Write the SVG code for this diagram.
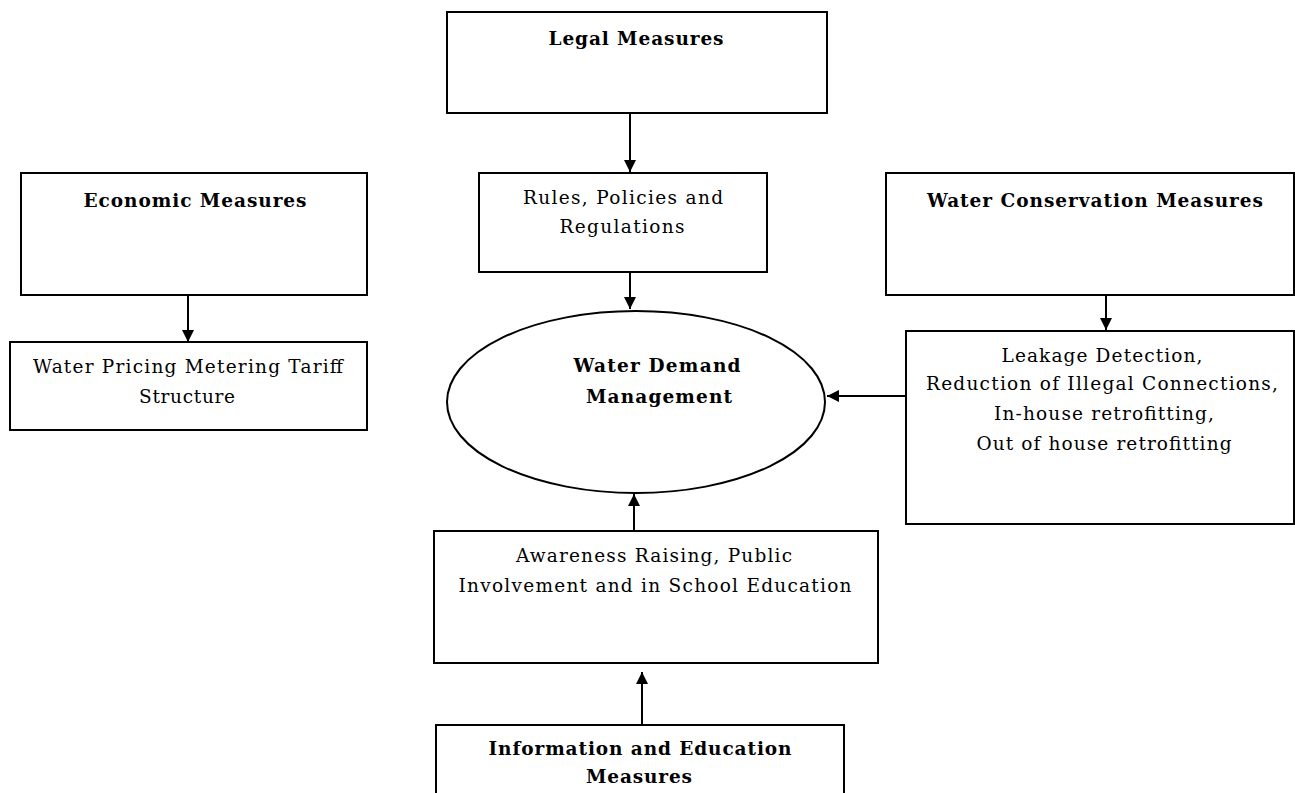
<svg xmlns="http://www.w3.org/2000/svg" width="1295" height="793" viewBox="0 0 1295 793">
<style>
.box{fill:#fff;stroke:#000;stroke-width:2}
.t{font-family:"DejaVu Serif","Liberation Serif",serif;font-size:18.5px;fill:#000;text-anchor:middle}
.b{font-weight:bold}
.c{stroke:#000;stroke-width:2;fill:none}
</style>
<defs>
<marker id="ah" markerUnits="userSpaceOnUse" markerWidth="12" markerHeight="12" viewBox="0 0 12 12" refX="12" refY="6" orient="auto">
<path d="M0,0 L12,6 L0,12 z" fill="#000"/>
</marker>
</defs>
<rect width="1295" height="793" fill="#fff"/>
<g id="connectors">
<line class="c" x1="630" y1="113" x2="630" y2="172" marker-end="url(#ah)"/>
<line class="c" x1="630" y1="272" x2="630" y2="309" marker-end="url(#ah)"/>
<line class="c" x1="188" y1="295" x2="188" y2="342" marker-end="url(#ah)"/>
<line class="c" x1="1106" y1="295" x2="1106" y2="330" marker-end="url(#ah)"/>
<line class="c" x1="906" y1="396" x2="827" y2="396" marker-end="url(#ah)"/>
<line class="c" x1="634" y1="531" x2="634" y2="494" marker-end="url(#ah)"/>
<line class="c" x1="642" y1="725" x2="642" y2="672" marker-end="url(#ah)"/>
</g>
<g id="legal">
<rect class="box" x="447" y="12" width="380" height="101"/>
<text class="t b" x="636" y="45" textLength="175" lengthAdjust="spacing">Legal Measures</text>
</g>
<g id="rules">
<rect class="box" x="479" y="173" width="288" height="99"/>
<text class="t" x="623" y="204" textLength="200" lengthAdjust="spacing">Rules, Policies and</text>
<text class="t" x="622" y="233" textLength="125" lengthAdjust="spacing">Regulations</text>
</g>
<g id="economic">
<rect class="box" x="21" y="173" width="346" height="122"/>
<text class="t b" x="195" y="207" textLength="223" lengthAdjust="spacing">Economic Measures</text>
</g>
<g id="pricing">
<rect class="box" x="10" y="342" width="357" height="88"/>
<text class="t" x="188" y="373" textLength="310" lengthAdjust="spacing">Water Pricing Metering Tariff</text>
<text class="t" x="187" y="403" textLength="96" lengthAdjust="spacing">Structure</text>
</g>
<g id="conservation">
<rect class="box" x="886" y="173" width="408" height="122"/>
<text class="t b" x="1095" y="207" textLength="336" lengthAdjust="spacing">Water Conservation Measures</text>
</g>
<g id="leakage">
<rect class="box" x="906" y="331" width="388" height="193"/>
<text class="t" x="1102" y="362" textLength="201" lengthAdjust="spacing">Leakage Detection,</text>
<text class="t" x="1102" y="390" textLength="352" lengthAdjust="spacing">Reduction of Illegal Connections,</text>
<text class="t" x="1104" y="420" textLength="220" lengthAdjust="spacing">In-house retrofitting,</text>
<text class="t" x="1104" y="450" textLength="255" lengthAdjust="spacing">Out of house retrofitting</text>
</g>
<g id="wdm">
<ellipse class="box" cx="636" cy="402" rx="189" ry="91"/>
<text class="t b" x="657" y="372" textLength="167" lengthAdjust="spacing">Water Demand</text>
<text class="t b" x="659" y="403" textLength="146" lengthAdjust="spacing">Management</text>
</g>
<g id="awareness">
<rect class="box" x="434" y="531" width="444" height="132"/>
<text class="t" x="654" y="562" textLength="276" lengthAdjust="spacing">Awareness Raising, Public</text>
<text class="t" x="655" y="592" textLength="393" lengthAdjust="spacing">Involvement and in School Education</text>
</g>
<g id="information">
<rect class="box" x="436" y="725" width="408" height="80"/>
<text class="t b" x="640" y="755" textLength="303" lengthAdjust="spacing">Information and Education</text>
<text class="t b" x="639" y="783" textLength="106" lengthAdjust="spacing">Measures</text>
</g>
</svg>
